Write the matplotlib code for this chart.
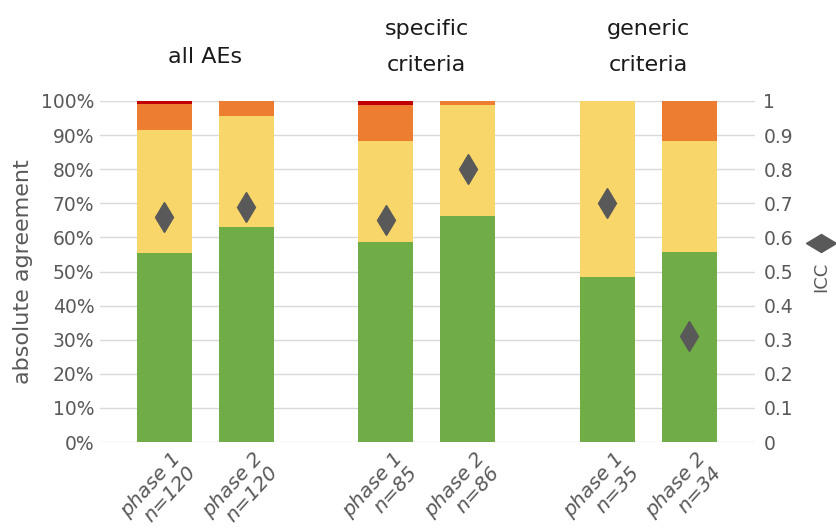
import numpy as np
import matplotlib.pyplot as plt
from matplotlib.markers import MarkerStyle
from matplotlib.transforms import Affine2D, ScaledTranslation
from matplotlib.ticker import PercentFormatter

# stacked shares (%) per bar
labels = ['phase 1\nn=120', 'phase 2\nn=120', 'phase 1\nn=85', 'phase 2\nn=86',
          'phase 1\nn=35', 'phase 2\nn=34']
green = [55.5, 63.0, 58.7, 66.3, 48.4, 55.7]
yellow = [36.0, 32.6, 29.6, 32.5, 51.6, 32.6]
orange = [7.7, 4.4, 10.5, 1.2, 0.0, 11.7]
red = [0.8, 0.0, 1.2, 0.0, 0.0, 0.0]
icc = [0.66, 0.69, 0.65, 0.80, 0.70, 0.31]
groups = ['all AEs', 'specific\ncriteria', 'generic\ncriteria']
pos = [0, 1, 2.7, 3.7, 5.4, 6.4]

grey = '#595959'
plt.rcParams['font.family'] = 'DejaVu Sans'

fig = plt.figure(figsize=(8.36, 5.32), dpi=100)
ax = fig.add_axes([100/836, 90/532, 655/836, 341/532])

w = 0.67
bottom = np.zeros(len(pos))
for vals, col in [(green, '#70AD47'), (yellow, '#F9D669'), (orange, '#ED7D31'), (red, '#C00000')]:
    ax.bar(pos, vals, w, bottom=bottom, color=col, zorder=2)
    bottom += np.array(vals)

ax.set_ylim(0, 100)
ax.set_xlim(-0.78, 7.2)
ax.set_yticks(np.arange(0, 101, 10))
ax.yaxis.set_major_formatter(PercentFormatter(decimals=0))
ax.grid(axis='y', color='#D9D9D9', lw=1, zorder=0)
for s in ax.spines.values():
    s.set_visible(False)
ax.tick_params(axis='y', length=0, labelsize=13.5, labelcolor=grey, pad=4)
ax.set_xticks(pos)
ax.set_xticklabels(labels, rotation=48, ha='right', va='center', rotation_mode='anchor',
                   style='italic', fontsize=14.5, color=grey, linespacing=1.1)
ax.tick_params(axis='x', length=0, pad=0)
shift = ScaledTranslation(0.21, -0.20, fig.dpi_scale_trans)
for lbl in ax.get_xticklabels():
    lbl.set_transform(lbl.get_transform() + shift)
ax.set_ylabel('absolute agreement', fontsize=16, color=grey, labelpad=6)

ax2 = ax.twinx()
ax2.set_ylim(0, 1)
ax2.set_yticks(np.arange(0, 1.01, 0.1))
ax2.set_yticklabels(['0'] + ['%.1f' % v for v in np.arange(0.1, 0.95, 0.1)] + ['1'])
ax2.tick_params(axis='y', length=0, labelsize=13.5, labelcolor=grey, pad=6)
for s in ax2.spines.values():
    s.set_visible(False)
ax2.plot(pos, icc, linestyle='none', marker='d', markersize=15, color=grey, zorder=3)

# legend key for ICC
hd = MarkerStyle('d', transform=Affine2D().rotate_deg(90))
fig.lines.append(plt.Line2D([821/836], [1 - 243/532], transform=fig.transFigure,
                            marker=hd, markersize=15, color=grey, linestyle='none'))
fig.text(821/836, 1 - 277/532, 'ICC', rotation=90, ha='center', va='center',
         fontsize=13, color=grey)

# group titles
gx = [(pos[0] + pos[1]) / 2, (pos[2] + pos[3]) / 2, (pos[4] + pos[5]) / 2]
gy = [112.9, 115.8, 115.8]
for x, y, g in zip(gx, gy, groups):
    ax.text(x, y, g, ha='center', va='center', fontsize=16, color='#1a1a1a',
            linespacing=2.0)

fig.savefig('out.png', dpi=100)
